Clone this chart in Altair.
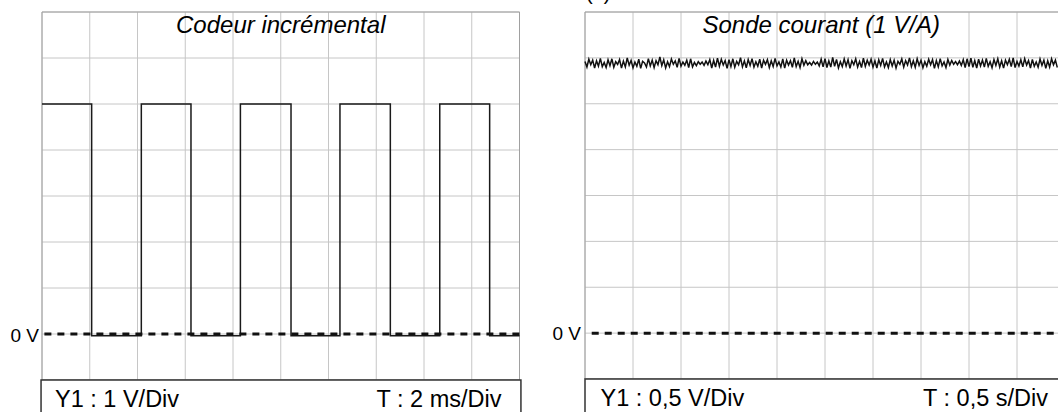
import altair as alt
import pandas as pd

# ---------------- left oscillogram (incremental encoder) ----------------
left_grid_ms = [0, 2, 4, 6, 8, 10, 12, 14, 16, 18, 20]
left_grid_v = [-1, 0, 1, 2, 3, 4, 5, 6, 7]
left_edges_ms = [0, 2.08, 4.16, 6.24, 8.31, 10.43, 12.48, 14.59, 16.66, 18.75, 20]
left_levels_v = [5, -0.04, 5, -0.04, 5, -0.04, 5, -0.04, 5, -0.04, -0.04]
left_title = ["Codeur incrémental"]
left_box_left = ["Y1 : 1 V/Div"]
left_box_right = ["T : 2 ms/Div"]
zero_label = ["0 V"]

# ---------------- right oscillogram (current probe) ----------------
right_grid_s = [0, 0.5, 1, 1.5, 2, 2.5, 3, 3.5, 4, 4.5, 5]
right_grid_v = [-0.5, 0, 0.5, 1, 1.5, 2, 2.5, 3, 3.5]
current_level_v = 2.94
sample_period_s = 0.02
current_noise_mv = [
    20, -40, 45, -15, 35, -50, 28, -30, 55, -35, 10, -45, 40, -25, 50, -42, 18, -12, 42,
    -52, 25, -38, 60, -20, 32, -48, 15, -32, 45, -55, 22, 5, -40, 52, -28, 35, -45, 30,
    -15, 70, -25, 40, -50, 18, -35, 48, -10, 28, -42, 55, -30, 15, -20, 35, -45, 50, -38,
    10, -25, 18, -10, 15, -22, 25, -15, 42, -50, 32, -40, 58, -30, 45, -18, 30, -55, 40,
    -35, 50, -42, 22, -15, 62, -38, 28, -48, 42, -22, 52, -40, 18, -32, 45, -50, 35, -10,
    40, -45, 28, -35, 55, -28, 15, -40, 48, -52, 35, -18, 30, -42, 60, -35, 22, -45, 50,
    -20, 30, -15, 10, -18, 22, -10, 15, -28, 45, -38, 52, -45, 28, -40, 65, -32, 42, -50,
    18, -35, 48, -28, 40, -55, 30, -15, 50, -40, 22, -45, 58, -32, 35, -18, 45, -42, 28,
    -50, 40, -22, 55, -38, 15, -45, 42, -28, 35, -52, 22, -10, 48, -40, 30, -18, 60, -35,
    28, -42, 50, -22, 35, -48, 18, -32, 45, -15, 40, -55, 30, -38, 52, -28, 15, -45, 42,
    -18, 32, -10, 20, -15, 25, -22, 40, -45, 50, -35, 58, -42, 30, -50, 45, -28, 35, -40,
    55, -32, 18, -48, 42, -22, 50, -40, 28, -52, 35, -15, 45, -35, 60, -45, 22, -28, 40,
    -38, 52, -18, 30, -50, 42, -32, 15, -42, 48, -22, 35, -55, 28, -40, 50, -15, 35, -45,
]
right_title = ["Sonde courant (1 V/A)"]
right_box_left = ["Y1 : 0,5 V/Div"]
right_box_right = ["T : 0,5 s/Div"]
panel_tag = ["(b)"]

# ---------------- styling ----------------
FONT = "Liberation Sans"
GRID = "#c6c6c6"
FRAME = "#a0a0a0"
INK = "#111111"

LX = alt.Scale(domain=[0, 20], range=[42, 519.5], nice=False, zero=False)
LY = alt.Scale(domain=[-1, 7], range=[380, 12], nice=False, zero=False)
RX = alt.Scale(domain=[0, 5], range=[585, 1065], nice=False, zero=False)
RY = alt.Scale(domain=[-0.5, 3.5], range=[379, 12], nice=False, zero=False)

one = pd.DataFrame({"k": [0]})


def vgrid(vals, xs, ys, y0, y1):
    return alt.Chart(pd.DataFrame({"t": vals})).mark_rule(color=GRID, strokeWidth=1).encode(
        x=alt.X("t:Q", scale=xs),
        y=alt.Y(datum=y1, scale=ys),
        y2=alt.Y2(datum=y0),
    )


def hgrid(vals, xs, ys, x0, x1):
    return alt.Chart(pd.DataFrame({"v": vals})).mark_rule(color=GRID, strokeWidth=1).encode(
        y=alt.Y("v:Q", scale=ys),
        x=alt.X(datum=x0, scale=xs),
        x2=alt.X2(datum=x1),
    )


def rect(xs, ys, x0, x1, y0, y1, **kw):
    return alt.Chart(one).mark_rect(**kw).encode(
        x=alt.X(datum=x0, scale=xs),
        x2=alt.X2(datum=x1),
        y=alt.Y(datum=y1, scale=ys),
        y2=alt.Y2(datum=y0),
    )


def dashed_zero(xs, ys, x0, x1):
    return alt.Chart(one).mark_rule(strokeDash=[7, 6], strokeWidth=3, color=INK).encode(
        x=alt.X(datum=x0, scale=xs),
        x2=alt.X2(datum=x1),
        y=alt.Y(datum=0, scale=ys),
    )


def label(text, xs, ys, xd, yd, **kw):
    return alt.Chart(pd.DataFrame({"label": text})).mark_text(font=FONT, color="#000000", **kw).encode(
        x=alt.X(datum=xd, scale=xs),
        y=alt.Y(datum=yd, scale=ys),
        text="label:N",
    )


left_signal = alt.Chart(pd.DataFrame({"t": left_edges_ms, "v": left_levels_v})).mark_line(
    interpolate="step-after", color="#1a1a1a", strokeWidth=1.5
).encode(x=alt.X("t:Q", scale=LX), y=alt.Y("v:Q", scale=LY))

noise_df = pd.DataFrame({
    "t": [i * sample_period_s for i in range(len(current_noise_mv))],
    "v": [current_level_v + n / 1000.0 for n in current_noise_mv],
})
right_signal = alt.Chart(noise_df).mark_line(color=INK, strokeWidth=1.5).encode(
    x=alt.X("t:Q", scale=RX), y=alt.Y("v:Q", scale=RY)
)

layers = [
    vgrid(left_grid_ms, LX, LY, -1, 7),
    hgrid(left_grid_v, LX, LY, 0, 20),
    rect(LX, LY, 0, 20, -1, 7, fillOpacity=0, stroke=FRAME, strokeWidth=1),
    vgrid(right_grid_s, RX, RY, -0.5, 3.5),
    hgrid(right_grid_v, RX, RY, 0, 5),
    rect(RX, RY, 0, 5, -0.5, 3.5, fillOpacity=0, stroke=FRAME, strokeWidth=1),
    left_signal,
    right_signal,
    dashed_zero(LX, LY, 0.1, 20.13),
    dashed_zero(RX, RY, 0.07, 5),
    rect(LX, LY, -0.04, 20.06, -1.9, -1, fill="white", stroke="#333333", strokeWidth=1.5),
    rect(RX, RY, 0, 5.01, -1.0, -0.5, fill="white", stroke="#333333", strokeWidth=1.5),
    label(left_title, LX, LY, 10, 7, fontSize=24, fontStyle="italic", align="center", baseline="alphabetic", dy=21),
    label(right_title, RX, RY, 2.46, 3.5, fontSize=24, fontStyle="italic", align="center", baseline="alphabetic", dy=21),
    label(zero_label, LX, LY, 0, 0, fontSize=19, align="right", baseline="alphabetic", dx=-3, dy=8),
    label(zero_label, RX, RY, 0, 0, fontSize=19, align="right", baseline="alphabetic", dx=-4, dy=7),
    label(left_box_left, LX, LY, 0, -1, fontSize=23.5, align="left", baseline="alphabetic", dx=13, dy=27),
    label(left_box_right, LX, LY, 20, -1, fontSize=23.5, align="right", baseline="alphabetic", dx=-18, dy=27),
    label(right_box_left, RX, RY, 0, -0.5, fontSize=23.5, align="left", baseline="alphabetic", dx=15.5, dy=27),
    label(right_box_right, RX, RY, 5, -0.5, fontSize=23.5, align="right", baseline="alphabetic", dx=-17, dy=27),
    label(panel_tag, RX, RY, 0, 3.5, fontSize=20, align="left", baseline="alphabetic", dx=1, dy=-12.5),
]

chart = (
    alt.layer(*layers)
    .resolve_scale(x="independent", y="independent")
    .properties(width=1058, height=412, autosize=alt.AutoSizeParams(type="none"), padding=0, background="white")
    .configure_view(strokeWidth=0)
    .configure_axis(disable=True)
)

chart.save("out.html", embed_options={"renderer": "svg", "actions": False})
